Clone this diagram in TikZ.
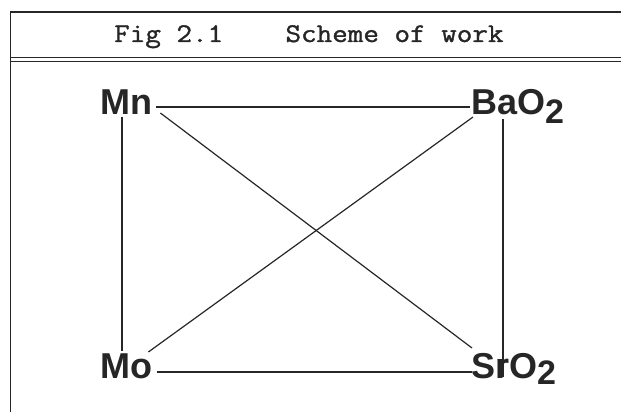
\documentclass[tikz,border=0pt]{standalone}
\usepackage{fontspec}
\setmainfont{Liberation Sans}
\newfontfamily\chemfont{Liberation Sans}
\newfontfamily\titlefont[FakeBold=1.2]{Latin Modern Mono}
\tikzset{
  frameline/.style={line width=1.5pt, draw=black!85},
  conn/.style={line width=1.2pt, draw=black!85},
  chem/.style={inner sep=0pt, anchor=base west, text=black!85,
    font=\chemfont\fontsize{36}{40}\selectfont\bfseries},
  titletext/.style={inner sep=0pt, anchor=base west, text=black!85,
    font=\titlefont\fontsize{27}{30}\selectfont}
}
\newcommand{\subtwo}[1]{\raisebox{-#1}{\fontsize{34}{36}\selectfont 2}}
\begin{document}
\begin{tikzpicture}[x=1pt,y=-1pt]
\useasboundingbox (0,0) rectangle (621,412);
% frame
\draw[frameline] (10.5,412) -- (10.5,12) -- (621,12);
\draw[frameline] (10,57.5) -- (621,57.5);
\draw[frameline] (10,61.5) -- (621,61.5);
% title
\node[titletext] (title) at (114,42) {\scalebox{1.12}[1]{Fig 2.1\ \ \ \ Scheme of work}};
% nodes
\node[chem] (Mn) at (100,114) {Mn};
\node[chem] (BaO) at (471,114) {BaO\subtwo{9pt}};
\node[chem] (Mo) at (100,378) {Mo};
\node[chem] (SrO) at (471,378) {SrO\subtwo{6pt}};
% connectors
\draw[conn] ([shift={(4pt,7pt)}]Mn.base east) -- ([shift={(-1pt,7pt)}]BaO.base west);
\draw[conn] ([shift={(5pt,6pt)}]Mo.base east) -- ([shift={(1pt,6pt)}]SrO.base west);
\draw[conn] ([shift={(22pt,-3pt)}]Mn.base west) -- ([shift={(22pt,27pt)}]Mo.base west);
\draw[conn] ([shift={(32pt,-5pt)}]BaO.base west) -- ([shift={(32pt,1pt)}]SrO.base west);
\draw[conn] ([shift={(8pt,1pt)}]Mn.base east) -- ([shift={(1pt,30pt)}]SrO.base west);
\draw[conn] ([shift={(2pt,-3pt)}]BaO.base west) -- ([shift={(-4pt,26pt)}]Mo.base east);
\end{tikzpicture}
\end{document}
